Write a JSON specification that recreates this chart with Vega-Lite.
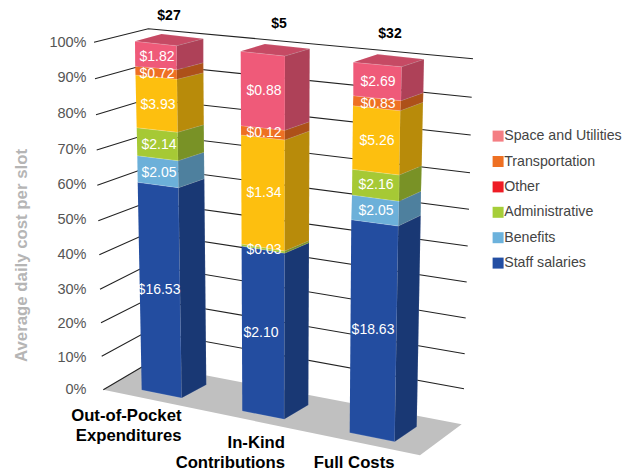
{"$schema":"https://vega.github.io/schema/vega-lite/v6.json","width":640,"height":472,"autosize":"none","padding":0,"background":"white","config":{"view":{"stroke":null},"font":"Liberation Sans"},
"datasets":{
"faces":[
{"bar":1,"segment":"Staff salaries","face":"front","x":[141.7,181.7,178.5,137.7],"y":[390,398,187.7,182.3]},
{"bar":1,"segment":"Staff salaries","face":"side","x":[181.7,206.3,204.3,178.5],"y":[398,384.7,178.7,187.7]},
{"bar":1,"segment":"Benefits","face":"front","x":[137.7,178.5,178.1,137.3],"y":[182.3,187.7,160.7,155.7]},
{"bar":1,"segment":"Benefits","face":"side","x":[178.5,204.3,204,178.1],"y":[187.7,178.7,152.3,160.7]},
{"bar":1,"segment":"Administrative","face":"front","x":[137.3,178.1,177.7,136.7],"y":[155.7,160.7,132.3,127.7]},
{"bar":1,"segment":"Administrative","face":"side","x":[178.1,204,203.8,177.7],"y":[160.7,152.3,124.7,132.3]},
{"bar":1,"segment":"Unlabelled","face":"front","x":[136.7,177.7,177,135.5],"y":[127.7,132.3,79.3,75]},
{"bar":1,"segment":"Unlabelled","face":"side","x":[177.7,203.8,203.4,177],"y":[132.3,124.7,72.7,79.3]},
{"bar":1,"segment":"Transportation","face":"front","x":[135.5,177,176.8,135.2],"y":[75,79.3,69.7,66.3]},
{"bar":1,"segment":"Transportation","face":"side","x":[177,203.4,203.3,176.8],"y":[79.3,72.7,62.7,69.7]},
{"bar":1,"segment":"Space and Utilities","face":"front","x":[135.2,176.8,176.7,135],"y":[66.3,69.7,45.7,41.3]},
{"bar":1,"segment":"Space and Utilities","face":"side","x":[176.8,203.3,203.3,176.7],"y":[69.7,62.7,38.7,45.7]},
{"bar":1,"segment":"Space and Utilities","face":"top","x":[135,176.7,203.3,161.7],"y":[41.3,45.7,38.7,34]},
{"bar":2,"segment":"Staff salaries","face":"front","x":[242.3,284.3,284.6,241.6],"y":[411,419.3,253.3,246]},
{"bar":2,"segment":"Staff salaries","face":"side","x":[284.3,308.3,309,284.6],"y":[419.3,405,242.7,253.3]},
{"bar":2,"segment":"Administrative","face":"front","x":[241.6,284.6,284.6,241.6],"y":[246,253.3,251,244]},
{"bar":2,"segment":"Administrative","face":"side","x":[284.6,309,309,284.6],"y":[253.3,242.7,240.7,251]},
{"bar":2,"segment":"Unlabelled","face":"front","x":[241.6,284.6,284.8,241.1],"y":[244,251,140,135]},
{"bar":2,"segment":"Unlabelled","face":"side","x":[284.6,309,309.4,284.8],"y":[251,240.7,131,140]},
{"bar":2,"segment":"Transportation","face":"front","x":[241.1,284.8,284.9,241],"y":[135,140,130.3,125.7]},
{"bar":2,"segment":"Transportation","face":"side","x":[284.8,309.4,309.4,284.9],"y":[140,131,121.7,130.3]},
{"bar":2,"segment":"Space and Utilities","face":"front","x":[241,284.9,285,240.7],"y":[125.7,130.3,56,51.3]},
{"bar":2,"segment":"Space and Utilities","face":"side","x":[284.9,309.4,309.7,285],"y":[130.3,121.7,48.7,56]},
{"bar":2,"segment":"Space and Utilities","face":"top","x":[240.7,285,309.7,265],"y":[51.3,56,48.7,44]},
{"bar":3,"segment":"Staff salaries","face":"front","x":[349.7,394.7,398.3,351.3],"y":[432.7,441.7,226,219.7]},
{"bar":3,"segment":"Staff salaries","face":"side","x":[394.7,416.7,420.7,398.3],"y":[441.7,426.7,215.3,226]},
{"bar":3,"segment":"Benefits","face":"front","x":[351.3,398.3,399,352],"y":[219.7,226,201.3,195]},
{"bar":3,"segment":"Benefits","face":"side","x":[398.3,420.7,421,399],"y":[226,215.3,191.3,201.3]},
{"bar":3,"segment":"Administrative","face":"front","x":[352,399,399.3,352.3],"y":[195,201.3,175,169.3]},
{"bar":3,"segment":"Administrative","face":"side","x":[399,421,421.7,399.3],"y":[201.3,191.3,165.7,175]},
{"bar":3,"segment":"Unlabelled","face":"front","x":[352.3,399.3,400.3,353],"y":[169.3,175,110.7,105.7]},
{"bar":3,"segment":"Unlabelled","face":"side","x":[399.3,421.7,423,400.3],"y":[175,165.7,102.3,110.7]},
{"bar":3,"segment":"Transportation","face":"front","x":[353,400.3,401,353.3],"y":[105.7,110.7,100.7,95.7]},
{"bar":3,"segment":"Transportation","face":"side","x":[400.3,423,423.3,401],"y":[110.7,102.3,92.7,100.7]},
{"bar":3,"segment":"Space and Utilities","face":"front","x":[353.3,401,401.7,353.3],"y":[95.7,100.7,66.7,62.3]},
{"bar":3,"segment":"Space and Utilities","face":"side","x":[401,423.3,424,401.7],"y":[100.7,92.7,59.3,66.7]},
{"bar":3,"segment":"Space and Utilities","face":"top","x":[353.3,401.7,424,377.7],"y":[62.3,66.7,59.3,54.3]}
],
"grid":[
{"level":100,"x":[94,148.3,473],"y":[42.3,28.7,58.7]},
{"level":90,"x":[95,148,471.7],"y":[78.7,64,97.3]},
{"level":80,"x":[96,148,470.7],"y":[114.7,99,135]},
{"level":70,"x":[96.7,148,470],"y":[150,134,172.7]},
{"level":60,"x":[97.3,148,469],"y":[185.3,167.3,209.3]},
{"level":50,"x":[98.3,148,467.7],"y":[220.7,202,246]},
{"level":40,"x":[99.3,148,466.7],"y":[254.7,233,282]},
{"level":30,"x":[100,148,465.7],"y":[289.3,265,318]},
{"level":20,"x":[101,148,464.7],"y":[322.7,299,353.7]},
{"level":10,"x":[101.7,148,464],"y":[356.3,331,388.7]},
{"level":0,"x":[103.3,147],"y":[389.7,364]}
],
"costs":[
{"cost":16.53,"x":159,"y":290},{"cost":2.05,"x":159,"y":173},{"cost":2.14,"x":159,"y":145},{"cost":3.93,"x":158,"y":105},{"cost":0.72,"x":157,"y":74},{"cost":1.82,"x":157,"y":57},
{"cost":2.10,"x":261,"y":333},{"cost":0.03,"x":264,"y":250},{"cost":1.34,"x":264,"y":193},{"cost":0.12,"x":264,"y":133},{"cost":0.88,"x":264,"y":91},
{"cost":18.63,"x":373,"y":330},{"cost":2.05,"x":376,"y":211},{"cost":2.16,"x":376,"y":185},{"cost":5.26,"x":377,"y":141},{"cost":0.83,"x":378,"y":104},{"cost":2.69,"x":378,"y":82}
],
"totals":[{"total":"$27","x":169,"y":16},{"total":"$5","x":279,"y":24},{"total":"$32","x":390,"y":34}],
"names":[{"name":"Out-of-Pocket","x":181.5,"y":416},{"name":"Expenditures","x":181.5,"y":436},{"name":"In-Kind","x":285,"y":443},{"name":"Contributions","x":285,"y":463},{"name":"Full Costs","x":394.5,"y":462.5}]
},
"resolve":{"scale":{"y":"independent"}},
"layer":[
{"data":{"values":[{"segment":"Space and Utilities","level":100},{"segment":"Transportation","level":80},{"segment":"Other","level":60},{"segment":"Administrative","level":40},{"segment":"Benefits","level":20},{"segment":"Staff salaries","level":0}]},
"mark":{"type":"point","filled":true,"opacity":0},
"encoding":{
"y":{"field":"level","type":"quantitative","scale":{"type":"pow","exponent":1.033,"domain":[-24.7,111.7],"nice":false,"zero":false},
"axis":{"offset":-90,"values":[0,10,20,30,40,50,60,70,80,90,100],"labelExpr":"datum.value + '%'","grid":false,"domain":false,"ticks":false,"labelPadding":4,"labelFontSize":14.5,"labelColor":"#555555","labelFont":"Liberation Sans","encode":{"labels":{"update":{"dx":{"signal":"(datum.value-100)*0.07"}}}},
"title":"Average daily cost per slot","titleFont":"Liberation Sans","titleFontSize":16.8,"titleFontWeight":"bold","titleColor":"#b5b5b5","titleX":-69,"titleY":255,"titleAnchor":"middle","titleAngle":-90,"titleBaseline":"middle"}},
"color":{"field":"segment","type":"nominal","scale":{"domain":["Space and Utilities","Transportation","Other","Administrative","Benefits","Staff salaries"],"range":["#f47e83","#ee7023","#ee1c25","#a6ce39","#6cb2dc","#234ea3"]},
"legend":{"title":null,"orient":"none","legendX":491,"legendY":129,"symbolType":"square","symbolSize":121,"symbolOpacity":1,"symbolStrokeWidth":0,"labelFontSize":14.2,"labelColor":"#444444","labelFont":"Liberation Sans","labelOffset":-1,"rowPadding":10.4,"padding":0}}
}},
{"encoding":{
"x":{"field":"x","type":"quantitative","scale":{"domain":[0,640],"nice":false,"zero":false},"axis":null},
"y":{"field":"y","type":"quantitative","scale":{"domain":[472,0],"nice":false,"zero":false},"axis":null}},
"layer":[
{"data":{"values":[{"part":"floor","i":[0,1,2,3],"x":[103.3,420,461.7,147],"y":[389.7,455.3,424.3,364]}]},
"transform":[{"flatten":["i","x","y"]}],
"mark":{"type":"line","fill":"#c0c0c0","strokeWidth":0},
"encoding":{"order":{"field":"i","type":"ordinal"}}},
{"data":{"name":"grid"},
"transform":[{"window":[{"op":"row_number","as":"row"}]},{"flatten":["x","y"]}],
"mark":{"type":"line","color":"#222222","strokeWidth":1.1},
"encoding":{"detail":{"field":"level"},"order":{"field":"x","type":"quantitative"}}},
{"data":{"name":"faces"},
"transform":[{"window":[{"op":"row_number","as":"id"}]},{"flatten":["x","y"]},{"window":[{"op":"row_number","as":"i"}],"groupby":["id"]}],
"layer":[
{"mark":{"type":"line","strokeWidth":0.5,"stroke":"#ffffff","strokeOpacity":0.3},
"encoding":{"detail":{"field":"id"},"order":{"field":"i","type":"quantitative"},
"fill":{"field":"segment","type":"nominal","legend":null,"scale":{"domain":["Space and Utilities","Transportation","Unlabelled","Administrative","Benefits","Staff salaries"],"range":["#ef5a79","#ee7023","#fdbf0f","#a6c935","#6cb0d9","#234da0"]}}}},
{"mark":{"type":"line","strokeWidth":0,"fill":"#000000"},
"encoding":{"detail":{"field":"id"},"order":{"field":"i","type":"quantitative"},
"fillOpacity":{"field":"face","type":"nominal","legend":null,"scale":{"type":"ordinal","domain":["front","side","top"],"range":[0,0.27,0.17]}}}}
]},
{"data":{"name":"costs"},"mark":{"type":"text","color":"#ffffff","fontSize":14,"font":"Liberation Sans","align":"center","baseline":"middle"},
"encoding":{"text":{"field":"cost","type":"quantitative","format":"$.2f"}}},
{"data":{"name":"totals"},"mark":{"type":"text","color":"#000000","fontSize":14,"fontWeight":"bold","font":"Liberation Sans","align":"center","baseline":"middle"},
"encoding":{"text":{"field":"total"}}},
{"data":{"name":"names"},"mark":{"type":"text","color":"#000000","fontSize":16.7,"fontWeight":"bold","font":"Liberation Sans","align":"right","baseline":"middle"},
"encoding":{"text":{"field":"name"}}}
]}
]}
